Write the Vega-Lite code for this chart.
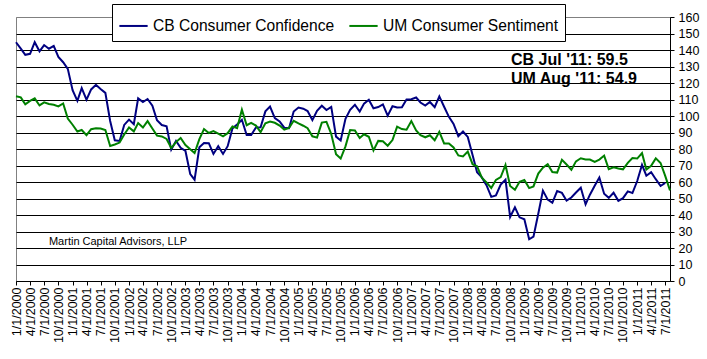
{
  "$schema": "https://vega.github.io/schema/vega-lite/v6.json",
  "width": 654,
  "height": 264,
  "autosize": {"type": "none"},
  "padding": {"left": 16, "top": 17, "right": 37, "bottom": 78},
  "background": "white",
  "config": {
    "view": {"stroke": "#808080", "strokeWidth": 1},
    "font": "Liberation Sans, Arial, sans-serif",
    "axis": {"labelFont": "Liberation Sans, Arial, sans-serif", "labelColor": "black", "domainColor": "black", "tickColor": "black", "domainWidth": 1, "tickWidth": 1}
  },
  "encoding": {
    "x": {
      "field": "date", "type": "temporal",
      "scale": {"type": "utc", "domain": [{"year": 2000, "month": 1, "date": 1, "utc": true}, {"year": 2011, "month": 8, "date": 1, "utc": true}]},
      "axis": {"title": null, "grid": false, "tickCount": {"interval": "month", "step": 3}, "format": "%-m/%-d/%Y", "labelAngle": 270, "labelAlign": "right", "labelBaseline": "middle", "labelFontSize": 12.5, "labelPadding": 2, "tickSize": 4, "labelOverlap": false, "labelFlush": false, "labelBound": false}
    },
    "y": {
      "field": "value", "type": "quantitative",
      "scale": {"domain": [0, 160], "nice": false},
      "axis": {"orient": "right", "title": null, "values": [0,10,20,30,40,50,60,70,80,90,100,110,120,130,140,150,160], "labelOverlap": false, "grid": true, "gridColor": {"condition": {"test": "datum.value === 160", "value": "#808080"}, "value": "black"}, "gridWidth": 1, "tickSize": 4, "labelPadding": 4, "labelFontSize": 12.5, "labelAlign": "left", "labelBaseline": "middle"}
    }
  },
  "layer": [
    {
      "data": {"values": [
        {"date":"2000-01-01","CB":144.7,"UM":112.0},{"date":"2000-02-01","CB":140.8,"UM":111.3},{"date":"2000-03-01","CB":137.1,"UM":107.1},{"date":"2000-04-01","CB":137.7,"UM":109.2},{"date":"2000-05-01","CB":144.7,"UM":110.7},{"date":"2000-06-01","CB":139.2,"UM":106.4},{"date":"2000-07-01","CB":143.0,"UM":108.3},{"date":"2000-08-01","CB":140.8,"UM":107.3},{"date":"2000-09-01","CB":142.5,"UM":106.8},{"date":"2000-10-01","CB":135.8,"UM":105.8},{"date":"2000-11-01","CB":132.6,"UM":107.6},{"date":"2000-12-01","CB":128.6,"UM":98.4},
        {"date":"2001-01-01","CB":115.7,"UM":94.7},{"date":"2001-02-01","CB":109.2,"UM":90.6},{"date":"2001-03-01","CB":116.9,"UM":91.5},{"date":"2001-04-01","CB":109.9,"UM":88.4},{"date":"2001-05-01","CB":116.1,"UM":92.0},{"date":"2001-06-01","CB":118.9,"UM":92.6},{"date":"2001-07-01","CB":116.3,"UM":92.4},{"date":"2001-08-01","CB":114.0,"UM":91.5},{"date":"2001-09-01","CB":97.0,"UM":81.8},{"date":"2001-10-01","CB":85.3,"UM":82.7},{"date":"2001-11-01","CB":84.9,"UM":83.9},{"date":"2001-12-01","CB":94.6,"UM":88.8},
        {"date":"2002-01-01","CB":97.8,"UM":93.0},{"date":"2002-02-01","CB":95.0,"UM":90.7},{"date":"2002-03-01","CB":110.7,"UM":95.7},{"date":"2002-04-01","CB":108.5,"UM":93.0},{"date":"2002-05-01","CB":110.3,"UM":96.9},{"date":"2002-06-01","CB":106.3,"UM":92.4},{"date":"2002-07-01","CB":97.4,"UM":88.1},{"date":"2002-08-01","CB":94.5,"UM":87.6},{"date":"2002-09-01","CB":93.7,"UM":86.1},{"date":"2002-10-01","CB":79.6,"UM":80.6},{"date":"2002-11-01","CB":84.9,"UM":84.2},{"date":"2002-12-01","CB":80.7,"UM":86.7},
        {"date":"2003-01-01","CB":78.8,"UM":82.4},{"date":"2003-02-01","CB":64.8,"UM":79.9},{"date":"2003-03-01","CB":61.4,"UM":77.6},{"date":"2003-04-01","CB":81.0,"UM":86.0},{"date":"2003-05-01","CB":83.6,"UM":92.1},{"date":"2003-06-01","CB":83.5,"UM":89.7},{"date":"2003-07-01","CB":77.0,"UM":90.9},{"date":"2003-08-01","CB":81.7,"UM":89.3},{"date":"2003-09-01","CB":77.0,"UM":87.7},{"date":"2003-10-01","CB":81.7,"UM":89.6},{"date":"2003-11-01","CB":92.5,"UM":93.7},{"date":"2003-12-01","CB":94.8,"UM":92.6},
        {"date":"2004-01-01","CB":97.7,"UM":103.8},{"date":"2004-02-01","CB":88.5,"UM":94.4},{"date":"2004-03-01","CB":88.5,"UM":95.8},{"date":"2004-04-01","CB":93.0,"UM":94.2},{"date":"2004-05-01","CB":93.1,"UM":90.2},{"date":"2004-06-01","CB":102.8,"UM":95.6},{"date":"2004-07-01","CB":105.7,"UM":96.7},{"date":"2004-08-01","CB":98.7,"UM":95.9},{"date":"2004-09-01","CB":96.7,"UM":94.2},{"date":"2004-10-01","CB":92.9,"UM":91.7},{"date":"2004-11-01","CB":92.6,"UM":92.8},{"date":"2004-12-01","CB":102.7,"UM":97.1},
        {"date":"2005-01-01","CB":105.1,"UM":95.5},{"date":"2005-02-01","CB":104.4,"UM":94.1},{"date":"2005-03-01","CB":103.0,"UM":92.6},{"date":"2005-04-01","CB":97.5,"UM":87.7},{"date":"2005-05-01","CB":103.1,"UM":86.9},{"date":"2005-06-01","CB":106.2,"UM":96.0},{"date":"2005-07-01","CB":103.6,"UM":96.5},{"date":"2005-08-01","CB":105.5,"UM":89.1},{"date":"2005-09-01","CB":87.5,"UM":76.9},{"date":"2005-10-01","CB":85.2,"UM":74.2},{"date":"2005-11-01","CB":98.3,"UM":81.6},{"date":"2005-12-01","CB":103.8,"UM":91.5},
        {"date":"2006-01-01","CB":106.8,"UM":91.2},{"date":"2006-02-01","CB":102.7,"UM":86.7},{"date":"2006-03-01","CB":107.5,"UM":88.9},{"date":"2006-04-01","CB":109.8,"UM":87.4},{"date":"2006-05-01","CB":104.7,"UM":79.1},{"date":"2006-06-01","CB":105.4,"UM":84.9},{"date":"2006-07-01","CB":107.0,"UM":84.7},{"date":"2006-08-01","CB":100.2,"UM":82.0},{"date":"2006-09-01","CB":105.9,"UM":85.4},{"date":"2006-10-01","CB":105.1,"UM":93.6},{"date":"2006-11-01","CB":105.3,"UM":92.1},{"date":"2006-12-01","CB":110.0,"UM":91.7},
        {"date":"2007-01-01","CB":110.2,"UM":96.9},{"date":"2007-02-01","CB":111.2,"UM":91.3},{"date":"2007-03-01","CB":108.2,"UM":88.4},{"date":"2007-04-01","CB":106.3,"UM":87.1},{"date":"2007-05-01","CB":108.5,"UM":88.3},{"date":"2007-06-01","CB":105.3,"UM":85.3},{"date":"2007-07-01","CB":111.9,"UM":90.4},{"date":"2007-08-01","CB":105.6,"UM":83.4},{"date":"2007-09-01","CB":99.5,"UM":83.4},{"date":"2007-10-01","CB":95.2,"UM":80.9},{"date":"2007-11-01","CB":87.8,"UM":76.1},{"date":"2007-12-01","CB":90.6,"UM":75.5},
        {"date":"2008-01-01","CB":87.3,"UM":78.4},{"date":"2008-02-01","CB":76.4,"UM":70.8},{"date":"2008-03-01","CB":65.9,"UM":69.5},{"date":"2008-04-01","CB":62.8,"UM":62.6},{"date":"2008-05-01","CB":58.1,"UM":59.8},{"date":"2008-06-01","CB":51.0,"UM":56.4},{"date":"2008-07-01","CB":51.9,"UM":61.2},{"date":"2008-08-01","CB":58.5,"UM":63.0},{"date":"2008-09-01","CB":61.4,"UM":70.3},{"date":"2008-10-01","CB":38.8,"UM":57.6},{"date":"2008-11-01","CB":44.7,"UM":55.3},{"date":"2008-12-01","CB":38.6,"UM":60.1},
        {"date":"2009-01-01","CB":37.4,"UM":61.2},{"date":"2009-02-01","CB":25.3,"UM":56.3},{"date":"2009-03-01","CB":26.9,"UM":57.3},{"date":"2009-04-01","CB":40.8,"UM":65.1},{"date":"2009-05-01","CB":54.8,"UM":68.7},{"date":"2009-06-01","CB":49.3,"UM":70.8},{"date":"2009-07-01","CB":47.4,"UM":66.0},{"date":"2009-08-01","CB":54.5,"UM":65.7},{"date":"2009-09-01","CB":53.4,"UM":73.5},{"date":"2009-10-01","CB":48.7,"UM":70.6},{"date":"2009-11-01","CB":50.6,"UM":67.4},{"date":"2009-12-01","CB":53.6,"UM":72.5},
        {"date":"2010-01-01","CB":56.5,"UM":74.4},{"date":"2010-02-01","CB":46.4,"UM":73.6},{"date":"2010-03-01","CB":52.3,"UM":73.6},{"date":"2010-04-01","CB":57.7,"UM":72.2},{"date":"2010-05-01","CB":62.7,"UM":73.6},{"date":"2010-06-01","CB":52.9,"UM":76.0},{"date":"2010-07-01","CB":50.4,"UM":67.8},{"date":"2010-08-01","CB":53.5,"UM":68.9},{"date":"2010-09-01","CB":48.6,"UM":68.2},{"date":"2010-10-01","CB":50.2,"UM":67.7},{"date":"2010-11-01","CB":54.3,"UM":71.6},{"date":"2010-12-01","CB":53.3,"UM":74.5},
        {"date":"2011-01-01","CB":60.6,"UM":74.2},{"date":"2011-02-01","CB":70.4,"UM":77.5},{"date":"2011-03-01","CB":63.8,"UM":67.5},{"date":"2011-04-01","CB":66.0,"UM":69.8},{"date":"2011-05-01","CB":61.7,"UM":74.3},{"date":"2011-06-01","CB":57.6,"UM":71.5},{"date":"2011-07-01","CB":59.5,"UM":63.7},{"date":"2011-08-01","CB":null,"UM":54.9}
      ]},
      "transform": [{"fold": ["CB", "UM"], "as": ["series", "value"]}],
      "mark": {"type": "line", "strokeWidth": 2, "strokeJoin": "miter"},
      "encoding": {
        "color": {
          "field": "series", "type": "nominal",
          "scale": {"domain": ["CB", "UM"], "range": ["#000080", "#008000"]},
          "legend": {"orient": "none", "legendX": 96, "legendY": -13, "direction": "horizontal", "columns": 2, "title": null, "symbolType": "stroke", "symbolSize": 800, "symbolStrokeWidth": 2, "labelFontSize": 15.6, "labelColor": "black", "labelOffset": 4, "columnPadding": 10, "padding": 6, "strokeColor": "black", "fillColor": "white", "labelLimit": 400, "labelExpr": "datum.label === 'CB' ? 'CB Consumer Confidence' : 'UM Consumer Sentiment'"}
        }
      }
    },
    {
      "data": {"values": [
        {"date": "2008-10-07", "value": 130.7, "label": "CB Jul '11: 59.5"},
        {"date": "2008-10-07", "value": 119.2, "label": "UM Aug '11: 54.9"}
      ]},
      "mark": {"type": "text", "align": "left", "baseline": "alphabetic", "fontSize": 16, "fontWeight": "bold", "color": "black"},
      "encoding": {
        "text": {"field": "label", "type": "nominal"}
      }
    },
    {
      "data": {"values": [
        {"date": "2000-08-01", "value": 21.8, "label": "Martin Capital Advisors, LLP"}
      ]},
      "mark": {"type": "text", "align": "left", "baseline": "alphabetic", "fontSize": 11, "color": "black"},
      "encoding": {
        "text": {"field": "label", "type": "nominal"}
      }
    }
  ]
}
